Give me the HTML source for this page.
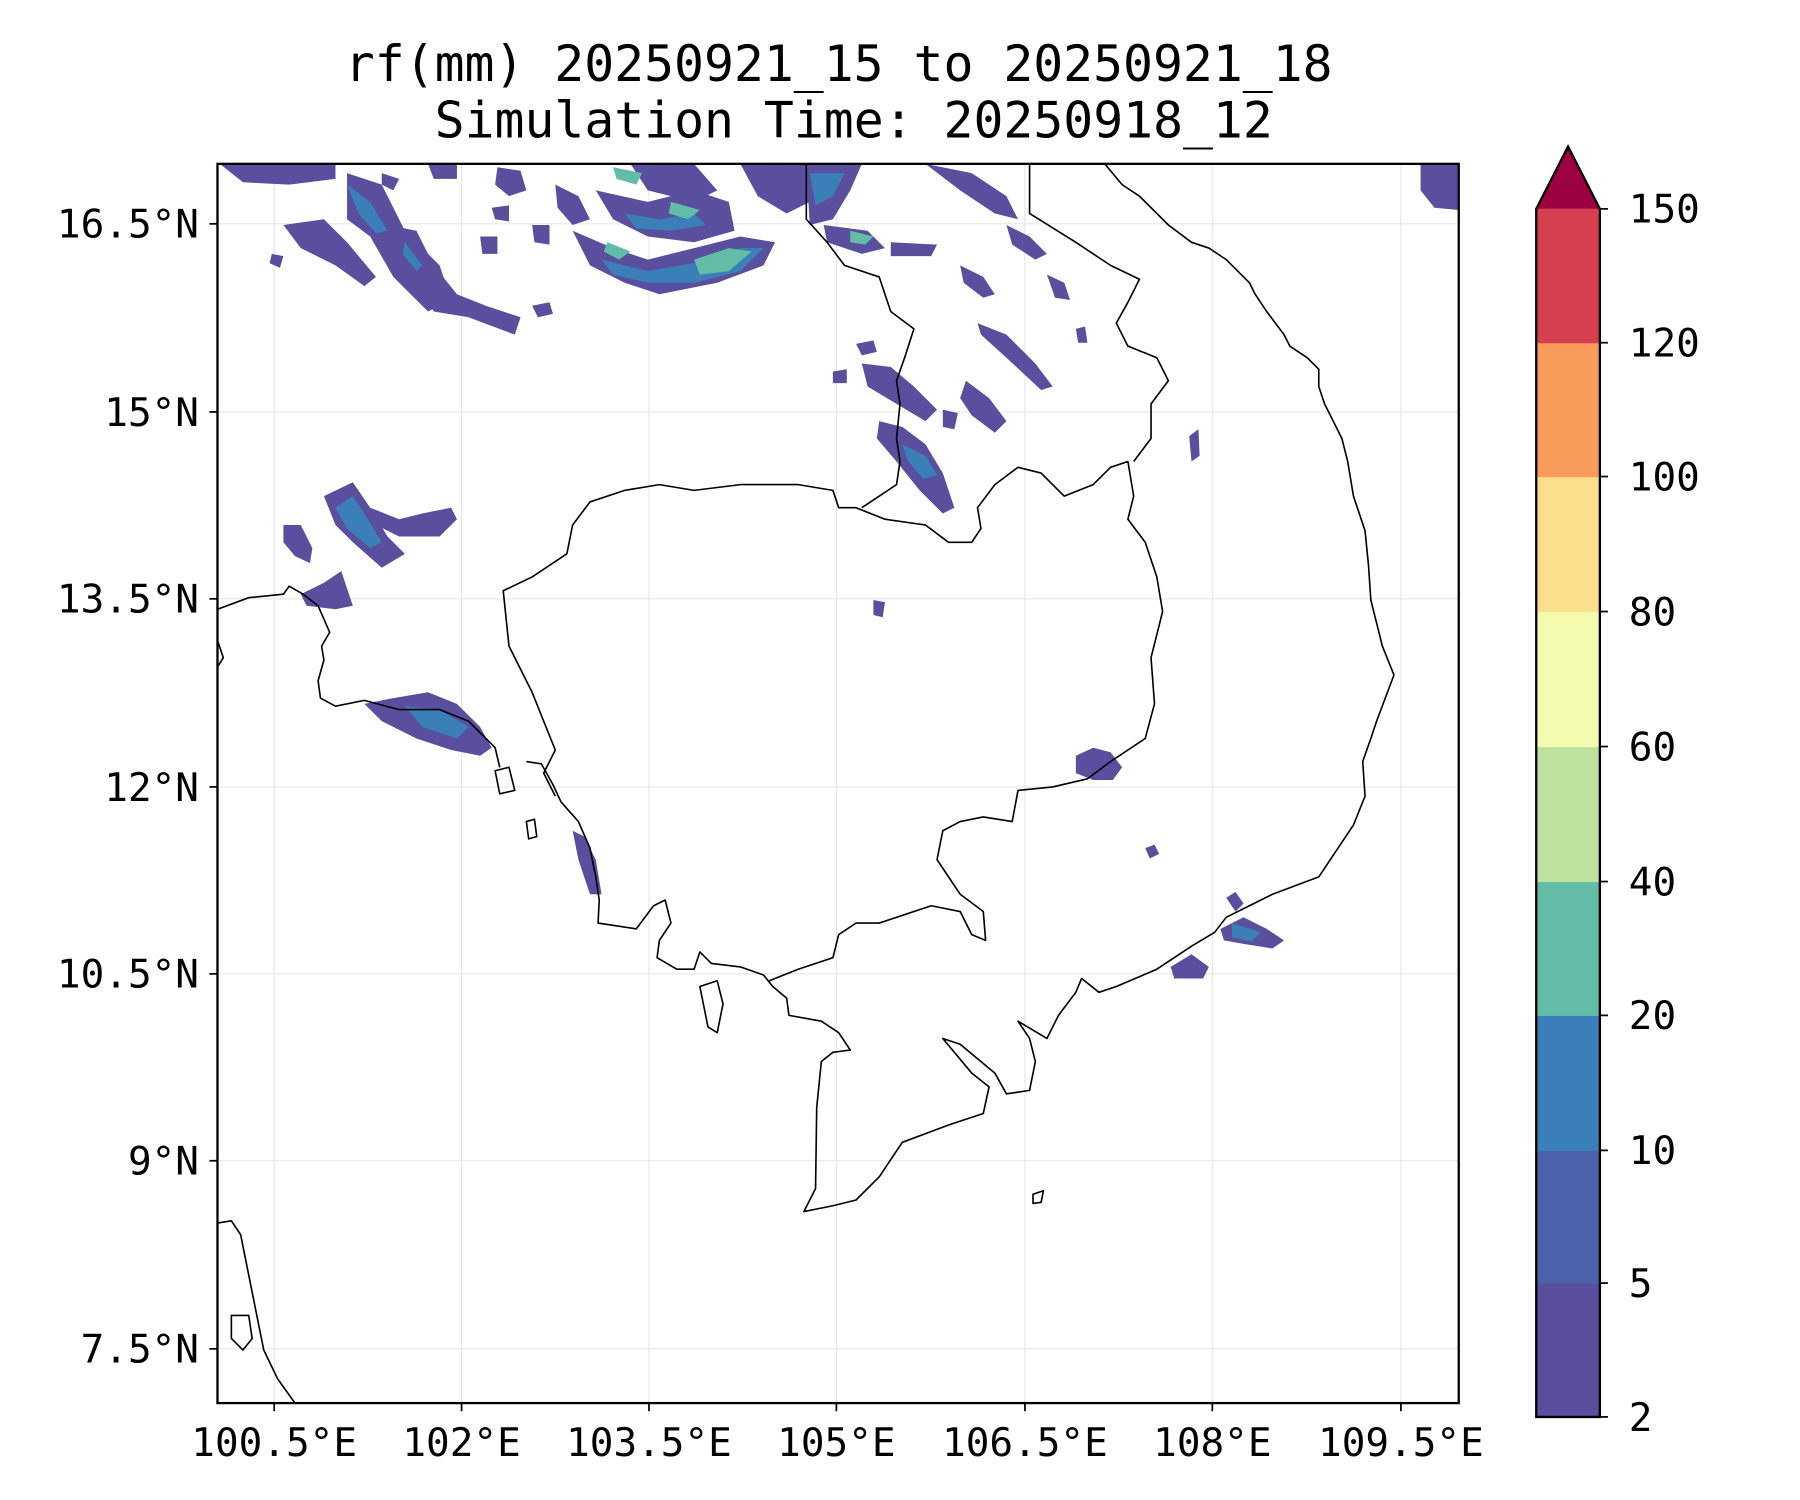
<!DOCTYPE html>
<html><head><meta charset="utf-8"><style>html,body{margin:0;padding:0;background:#fff}svg{display:block}</style></head>
<body>
<svg width="1800" height="1500" viewBox="0 0 1556 1300" preserveAspectRatio="none" xmlns="http://www.w3.org/2000/svg" font-family="'DejaVu Sans Mono','Liberation Mono',monospace">
<rect width="1556" height="1300" fill="#fff"/>
<text x="725" y="70" font-size="43" text-anchor="middle">rf(mm) 20250921_15 to 20250921_18</text>
<text x="738" y="119" font-size="43" text-anchor="middle">Simulation Time: 20250918_12</text>
<defs><clipPath id="ax"><rect x="188" y="142" width="1073" height="1074"/></clipPath></defs>
<g clip-path="url(#ax)">
<g stroke="#e6e6e6" stroke-width="1">
<line x1="237" y1="142" x2="237" y2="1216"/><line x1="399" y1="142" x2="399" y2="1216"/><line x1="561" y1="142" x2="561" y2="1216"/><line x1="723" y1="142" x2="723" y2="1216"/><line x1="886" y1="142" x2="886" y2="1216"/><line x1="1048" y1="142" x2="1048" y2="1216"/><line x1="1211" y1="142" x2="1211" y2="1216"/>
<line x1="188" y1="194" x2="1261" y2="194"/><line x1="188" y1="357" x2="1261" y2="357"/><line x1="188" y1="519" x2="1261" y2="519"/><line x1="188" y1="682" x2="1261" y2="682"/><line x1="188" y1="844" x2="1261" y2="844"/><line x1="188" y1="1006" x2="1261" y2="1006"/><line x1="188" y1="1169" x2="1261" y2="1169"/>
</g>
<g fill="#5a4f9f">
<polygon points="190,142 290,142 290,155 250,160 210,158"/>
<polygon points="300,150 330,160 350,200 380,230 390,260 370,270 340,240 320,205 300,190"/>
<polygon points="245,195 280,190 300,210 325,240 315,248 290,230 260,215"/>
<polygon points="335,195 360,200 375,230 395,255 420,265 450,275 445,290 405,275 375,270 360,245 345,220"/>
<polygon points="480,160 500,170 510,190 495,195 482,180"/>
<polygon points="495,200 530,215 560,225 600,215 640,205 670,210 660,230 620,245 570,255 540,245 510,230"/>
<polygon points="515,165 560,175 600,165 630,175 635,200 600,210 560,205 530,190"/>
<polygon points="545,142 600,142 620,165 600,175 560,165"/>
<polygon points="640,142 700,142 700,175 680,185 655,170"/>
<polygon points="697,142 745,142 735,165 720,190 700,195"/>
<polygon points="712,195 750,200 765,215 745,220 715,210"/>
<polygon points="770,210 810,212 805,222 770,222"/>
<polygon points="800,142 840,150 870,170 880,190 860,185 830,165"/>
<polygon points="870,195 890,205 905,220 895,225 875,212"/>
<polygon points="830,230 850,240 860,255 850,258 833,245"/>
<polygon points="905,238 920,245 925,260 912,258"/>
<polygon points="845,280 870,290 895,315 910,335 900,338 870,310 848,290"/>
<polygon points="745,315 770,318 790,335 810,355 800,365 775,350 750,335"/>
<polygon points="760,365 780,370 800,385 815,410 825,440 815,445 795,425 775,400 758,380"/>
<polygon points="835,330 855,345 870,365 860,375 840,360 830,345"/>
<polygon points="280,430 305,418 320,440 335,465 350,480 330,492 305,470 290,455"/>
<polygon points="320,440 345,450 365,445 390,440 395,450 380,465 345,465 325,455"/>
<polygon points="245,455 260,455 270,475 268,488 255,482 245,470"/>
<polygon points="260,515 280,505 295,495 300,510 305,525 290,528 265,525"/>
<polygon points="315,610 340,605 370,600 395,610 415,630 425,648 415,655 390,650 360,640 330,625"/>
<polygon points="930,655 945,648 960,652 970,665 962,676 945,676 930,670"/>
<polygon points="1012,838 1030,827 1045,838 1040,848 1015,848"/>
<polygon points="1055,805 1075,795 1095,805 1110,815 1100,822 1075,818 1058,815"/>
<polygon points="1228,142 1261,142 1261,182 1240,180 1228,165"/>
<polygon points="755,520 765,522 763,535 755,533"/>
<polygon points="1060,778 1068,773 1075,783 1068,790"/>
<polygon points="990,735 998,732 1002,740 994,744"/>
<polygon points="1028,378 1036,372 1037,395 1030,400"/>
<polygon points="495,720 505,725 515,745 520,775 510,775 500,745"/>
<polygon points="425,180 440,178 440,192 428,190"/>
<polygon points="460,195 475,195 475,212 462,210"/>
<polygon points="415,205 430,205 430,220 417,220"/>
<polygon points="460,265 475,262 478,272 465,275"/>
<polygon points="430,145 450,148 455,165 440,170 428,160"/>
<polygon points="370,142 395,142 395,155 375,155"/>
<polygon points="330,150 345,155 340,165 330,160"/>
<polygon points="235,220 245,222 242,232 233,228"/>
<polygon points="740,298 755,295 758,305 745,308"/>
<polygon points="720,322 732,320 732,332 720,332"/>
<polygon points="815,355 828,358 825,372 815,370"/>
<polygon points="930,285 938,283 940,297 932,297"/>
</g>
<g fill="#3a7fb8">
<polygon points="520,225 560,235 600,228 640,215 660,215 640,235 600,245 560,245 530,238"/>
<polygon points="300,160 320,175 335,200 325,202 310,185"/>
<polygon points="350,210 365,230 360,235 348,220"/>
<polygon points="290,440 305,430 318,450 330,470 320,475 300,458"/>
<polygon points="780,385 800,395 810,412 798,415 785,400"/>
<polygon points="540,185 570,190 600,185 610,195 580,200 550,198"/>
<polygon points="700,150 730,150 720,170 705,178"/>
<polygon points="350,612 380,615 405,630 395,640 365,630"/>
<polygon points="1065,800 1090,808 1082,816 1065,812"/>
</g>
<g fill="#63bca8">
<polygon points="600,225 630,215 650,218 630,235 605,238"/>
<polygon points="525,210 545,218 535,225 522,218"/>
<polygon points="580,175 605,182 595,190 578,185"/>
<polygon points="530,145 555,150 550,160 533,155"/>
<polygon points="735,200 755,205 748,212 735,210"/>
</g>
<g fill="none" stroke="#000" stroke-width="1.4" stroke-linejoin="round">
<polyline points="188,528 215,518 245,515 250,508 262,515 275,525 285,548 278,560 280,572 275,590 277,605 290,612 315,607 345,615 380,615 405,625 420,640 428,648 432,665"/>
<polyline points="455,660 468,662 478,680 485,695 500,712 510,735 515,760 518,780 517,800 550,805 565,785 575,780 580,800 570,815 568,830 585,840 600,840 605,825 615,835 640,838 660,845 668,855 680,865 682,880 710,885 725,895 735,910 720,912 710,920 706,960 705,1030 695,1050 720,1045 740,1040 760,1020 780,990 820,975 850,965 855,942 840,930 815,900 830,905 860,930 870,948 890,945 895,920 890,900 880,885 905,900 915,880 930,860 935,848 950,860 965,855 1000,840 1030,820 1050,808 1060,795 1080,785 1100,775 1140,760 1160,730 1170,715 1180,690 1178,660 1185,640 1190,625 1205,585 1195,560 1190,540 1185,520 1183,490 1180,460 1170,430 1165,400 1160,380 1155,370 1145,350 1140,335 1140,320 1130,310 1115,300 1110,290 1095,270 1085,255 1080,245 1060,225 1045,215 1030,210 1010,195 1000,185 985,170 970,160 955,142"/>
<polyline points="480,690 470,670 480,650 470,625 460,600 450,580 440,560 435,512 460,500 490,480 495,455 510,435 540,425 570,420 600,425 640,420 690,420 720,425 725,440 740,440 765,450 800,455 820,470 840,470 848,458 845,440 860,420 880,405 900,410 920,430 945,420 960,405 975,400 980,430 975,450 990,470 1000,500 1005,530 995,570 998,610 990,640 960,660 940,675 910,682 880,685 875,712 850,708 830,712 815,720 810,745 830,775 850,790 852,815 840,810 830,790 805,785 775,795 760,800 740,800 725,810 720,830 690,840 665,850"/>
<polyline points="697,142 697,190 715,210 730,230 760,240 765,255 770,270 790,285 782,310 775,330 778,350 775,380 778,400 775,420 760,430 745,440"/>
<polyline points="890,142 890,185 930,210 960,230 985,242 975,262 965,280 975,300 1000,310 1010,330 995,350 995,380 980,400"/>
<polyline points="188,1060 200,1058 208,1070 212,1090 220,1130 228,1170 240,1195 255,1216"/>
<polyline points="188,555 193,570 188,578"/>
<polygon points="605,855 620,850 625,870 620,895 612,890 608,870"/>
<polygon points="428,668 440,665 445,685 432,688"/>
<polygon points="200,1140 215,1140 218,1160 210,1170 200,1160"/>
<polygon points="455,712 462,710 464,725 457,727"/>
<polygon points="893,1035 902,1032 900,1042 893,1043"/>
</g>
</g>
<rect x="188" y="142" width="1073" height="1074" fill="none" stroke="#000" stroke-width="2"/>
<g stroke="#000" stroke-width="1.5">
<line x1="237" y1="1216" x2="237" y2="1223"/><line x1="399" y1="1216" x2="399" y2="1223"/><line x1="561" y1="1216" x2="561" y2="1223"/><line x1="723" y1="1216" x2="723" y2="1223"/><line x1="886" y1="1216" x2="886" y2="1223"/><line x1="1048" y1="1216" x2="1048" y2="1223"/><line x1="1211" y1="1216" x2="1211" y2="1223"/>
<line x1="181" y1="194" x2="188" y2="194"/><line x1="181" y1="357" x2="188" y2="357"/><line x1="181" y1="519" x2="188" y2="519"/><line x1="181" y1="682" x2="188" y2="682"/><line x1="181" y1="844" x2="188" y2="844"/><line x1="181" y1="1006" x2="188" y2="1006"/><line x1="181" y1="1169" x2="188" y2="1169"/>
</g>
<g font-size="34" text-anchor="middle">
<text x="237" y="1262">100.5°E</text><text x="399" y="1262">102°E</text><text x="561" y="1262">103.5°E</text><text x="723" y="1262">105°E</text><text x="886" y="1262">106.5°E</text><text x="1048" y="1262">108°E</text><text x="1211" y="1262">109.5°E</text>
</g>
<g font-size="34" text-anchor="end">
<text x="172" y="206">16.5°N</text><text x="172" y="369">15°N</text><text x="172" y="531">13.5°N</text><text x="172" y="694">12°N</text><text x="172" y="856">10.5°N</text><text x="172" y="1018">9°N</text><text x="172" y="1181">7.5°N</text>
</g>
<rect x="1328" y="1112" width="55" height="116" fill="#5a4f9f"/>
<rect x="1328" y="997" width="55" height="115.5" fill="#4c63ac"/>
<rect x="1328" y="880" width="55" height="117.5" fill="#3a7fb8"/>
<rect x="1328" y="764" width="55" height="116.5" fill="#63bca8"/>
<rect x="1328" y="647" width="55" height="117.5" fill="#bde2a0"/>
<rect x="1328" y="530" width="55" height="117.5" fill="#f3faad"/>
<rect x="1328" y="413" width="55" height="117.5" fill="#fbde8b"/>
<rect x="1328" y="297" width="55" height="116.5" fill="#f99b5a"/>
<rect x="1328" y="181" width="55" height="116.5" fill="#d63f4f"/>
<polygon points="1328,181 1355.5,127 1383,181" fill="#9e0142"/>
<polygon points="1328,1228 1328,181 1355.5,127 1383,181 1383,1228" fill="none" stroke="#000" stroke-width="2"/>
<g stroke="#000" stroke-width="1.5">
<line x1="1383" y1="1228" x2="1390" y2="1228"/><line x1="1383" y1="1112" x2="1390" y2="1112"/><line x1="1383" y1="997" x2="1390" y2="997"/><line x1="1383" y1="880" x2="1390" y2="880"/><line x1="1383" y1="764" x2="1390" y2="764"/><line x1="1383" y1="647" x2="1390" y2="647"/><line x1="1383" y1="530" x2="1390" y2="530"/><line x1="1383" y1="413" x2="1390" y2="413"/><line x1="1383" y1="297" x2="1390" y2="297"/><line x1="1383" y1="181" x2="1390" y2="181"/>
</g>
<g font-size="34">
<text x="1408" y="1240">2</text><text x="1408" y="1124">5</text><text x="1408" y="1009">10</text><text x="1408" y="892">20</text><text x="1408" y="776">40</text><text x="1408" y="659">60</text><text x="1408" y="542">80</text><text x="1408" y="425">100</text><text x="1408" y="309">120</text><text x="1408" y="193">150</text>
</g>
</svg>
</body></html>
